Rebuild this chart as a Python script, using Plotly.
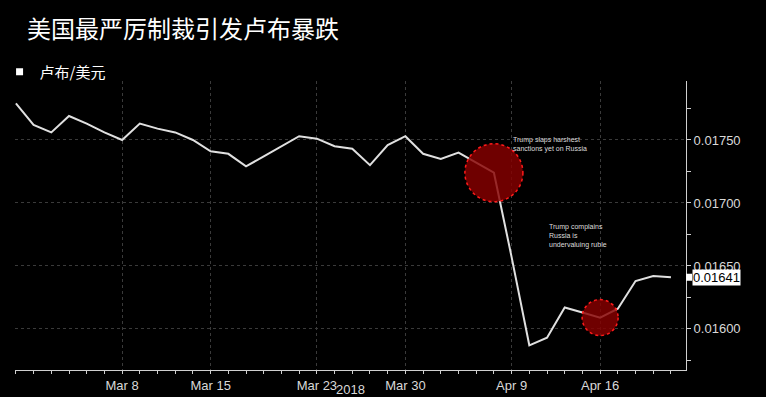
import plotly.graph_objects as go

# ---- data ----
dates = ["Feb 28", "Mar 1", "Mar 2", "Mar 5", "Mar 6", "Mar 7", "Mar 8", "Mar 9",
         "Mar 12", "Mar 13", "Mar 14", "Mar 15", "Mar 16", "Mar 19", "Mar 20",
         "Mar 21", "Mar 22", "Mar 23", "Mar 26", "Mar 27", "Mar 28", "Mar 29",
         "Mar 30", "Apr 2", "Apr 3", "Apr 4", "Apr 5", "Apr 6", "Apr 9", "Apr 10",
         "Apr 11", "Apr 12", "Apr 13", "Apr 16", "Apr 17", "Apr 18", "Apr 19", "Apr 20"]
rub_usd = [0.01779, 0.01762, 0.01756, 0.01769, 0.01763, 0.01756, 0.01750, 0.01763,
           0.01759, 0.01756, 0.01750, 0.01741, 0.01739, 0.01729, 0.01737, 0.01745,
           0.01753, 0.01751, 0.01745, 0.01743, 0.01730, 0.01746, 0.01753, 0.01739,
           0.01735, 0.01740, 0.01732, 0.01724, 0.01657, 0.01587, 0.01593, 0.01617,
           0.01613, 0.01609, 0.01616, 0.01638, 0.01642, 0.01641]
tick_labels = ["Mar 8", "Mar 15", "Mar 23", "Mar 30", "Apr 9", "Apr 16"]
y_ticks = [0.01600, 0.01650, 0.01700, 0.01750]
events = [("Apr 6", "Trump slaps harshest<br>sanctions yet on Russia", 29),
          ("Apr 16", "Trump complains<br>Russia is<br>undervaluing ruble", 18)]
series_name = "卢布/美元"
title = "美国最严厉制裁引发卢布暴跌"
year_label = "2018"

idx = list(range(len(dates)))
tickvals = [dates.index(t) for t in tick_labels]

fig = go.Figure()
fig.add_trace(go.Scatter(x=idx, y=rub_usd, mode="lines",
                         line=dict(color="#e0e0e0", width=2),
                         showlegend=False, hoverinfo="skip"))
fig.add_trace(go.Scatter(x=[None], y=[None], mode="markers", name=series_name,
                         marker=dict(symbol="square", color="white", size=7)))

shapes = []
for d, _, r in events:
    i = dates.index(d)
    shapes.append(dict(type="circle", xref="x", yref="y", xsizemode="pixel",
                       ysizemode="pixel", xanchor=i, yanchor=rub_usd[i],
                       x0=-r, x1=r, y0=-r, y1=r,
                       fillcolor="rgba(135,0,0,0.82)",
                       line=dict(color="#ff1a1a", width=1.5, dash="dot"),
                       layer="above"))

annotations = []
# event notes
i0 = dates.index(events[0][0])
annotations.append(dict(x=i0, y=rub_usd[i0], xref="x", yref="y", text=events[0][1],
                        showarrow=False, xanchor="left", yanchor="top", align="left",
                        xshift=17, yshift=39,
                        font=dict(size=7, color="#dddddd", family="Liberation Sans")))
annotations.append(dict(x=0.793, y=0.515, xref="paper", yref="paper", text=events[1][1],
                        showarrow=False, xanchor="left", yanchor="top", align="left",
                        font=dict(size=7, color="#dddddd", family="Liberation Sans")))
# last value label
annotations.append(dict(x=1, y=rub_usd[-1], xref="paper", yref="y",
                        text="%.5f" % rub_usd[-1], showarrow=True, ax=6, ay=0,
                        xanchor="left", arrowhead=0, arrowcolor="white",
                        arrowwidth=7, bgcolor="white", borderpad=0,
                        font=dict(size=13, color="black", family="Liberation Sans")))
annotations.append(dict(x=0.5, y=-0.068, xref="paper", yref="paper", text=year_label,
                        showarrow=False, yanchor="middle",
                        font=dict(size=13, color="#d9d9d9", family="Liberation Sans")))

fig.update_layout(
    width=766, height=397,
    margin=dict(l=15, r=80, t=81, b=27, autoexpand=False),
    paper_bgcolor="black", plot_bgcolor="black",
    title=dict(text=title, x=27 / 766, xref="container", xanchor="left",
               y=1 - 30 / 397, yref="container", yanchor="middle",
               font=dict(size=24, color="white", family="Noto Sans CJK SC")),
    legend=dict(x=-0.023, y=1.031, xanchor="left", yanchor="middle",
                bgcolor="rgba(0,0,0,0)",
                font=dict(size=15, color="white", family="Noto Sans CJK SC")),
    shapes=shapes, annotations=annotations,
    font=dict(family="Liberation Sans", color="#d9d9d9", size=13),
)
fig.update_xaxes(range=[-0.05, 37.85], tickmode="array", tickvals=tickvals,
                 ticktext=tick_labels, showline=True, linecolor="#d0d0d0",
                 ticks="outside", ticklen=3, tickcolor="#d0d0d0",
                 minor=dict(dtick=1, tick0=0, ticks="outside", ticklen=3,
                            tickcolor="#d0d0d0", showgrid=False),
                 showgrid=True, gridcolor="#3a3a3a", griddash="dot", gridwidth=1,
                 zeroline=False, tickfont=dict(size=13, color="#d9d9d9"))
fig.update_yaxes(range=[0.015674, 0.017968], side="right", tickmode="array",
                 tickvals=y_ticks, ticktext=["%.5f" % v for v in y_ticks],
                 showline=True, linecolor="#d0d0d0", ticks="outside", ticklen=4,
                 tickcolor="#d0d0d0",
                 minor=dict(dtick=0.00025, tick0=0.0155, ticks="outside", ticklen=4,
                            tickcolor="#d0d0d0", showgrid=False),
                 showgrid=True, gridcolor="#3a3a3a", griddash="dot", gridwidth=1,
                 zeroline=False, tickfont=dict(size=13, color="#d9d9d9"))

fig.write_html("out.html")
